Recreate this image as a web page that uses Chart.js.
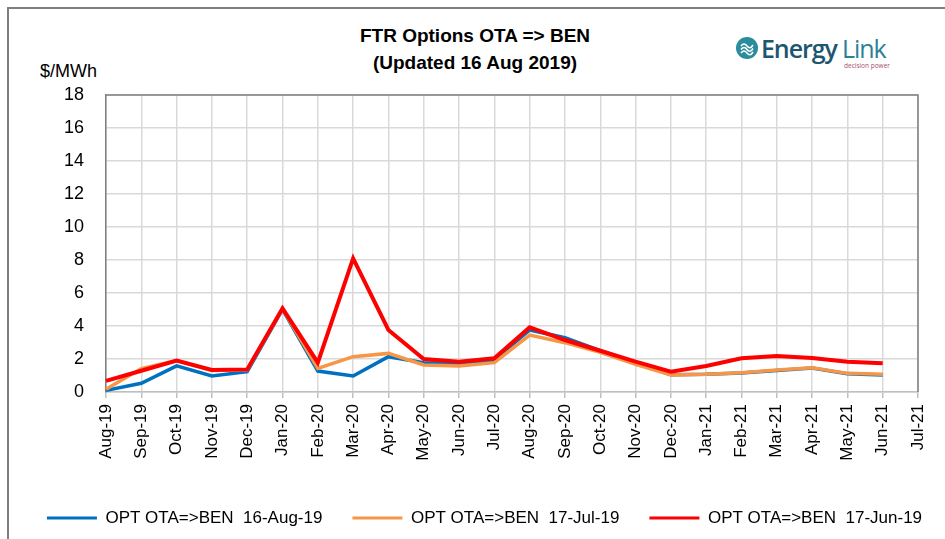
<!DOCTYPE html>
<html>
<head>
<meta charset="utf-8">
<script src="https://cdn.jsdelivr.net/npm/chart.js@4.4.1/dist/chart.umd.min.js"></script>
<style>
    html, body { margin: 0; padding: 0; background: #fff; width: 945px; height: 539px; overflow: hidden; }
    #frame { position: absolute; left: 7px; top: 7px; width: 1000px; height: 600px; border: 2px solid #7f7f7f; background: #fff; }
    #wrap { position: absolute; left: 0; top: 0; width: 969px; height: 539px; }
    .narrow { font-family: 'Liberation Sans', Arial, sans-serif; color: #000; }
    #title { position: absolute; left: 300px; top: 22px; width: 350px; text-align: center; font-size: 19px; font-weight: bold; line-height: 27px; }
    #unit { position: absolute; left: 40px; top: 61px; font-size: 18px; }
    #logo { position: absolute; left: 736px; top: 33px; width: 150px; height: 40px; }
    #logo svg { position: absolute; left: 0; top: 4px; }
    #logo .name { position: absolute; left: 25px; top: 0; font-family: 'Open Sans', sans-serif; font-size: 25px; line-height: 30px; white-space: nowrap; letter-spacing: -1.1px; }
    #logo .e { color: #1d5670; font-weight: 600; }
    #logo .l { color: #2c7f96; font-weight: 400; }
    #logo .tag { position: absolute; left: 108px; top: 28px; font-family: 'Open Sans', sans-serif; font-size: 6.5px; color: #a4506e; white-space: nowrap; }
</style>
</head>
<body>
<div id="frame"></div>
<div id="title" class="narrow">FTR Options OTA =&gt; BEN<br>(Updated 16 Aug 2019)</div>
<div id="unit" class="narrow">$/MWh</div>
<div id="logo">
    <svg width="22" height="22" viewBox="0 0 22 22">
        <circle cx="11" cy="11" r="11" fill="#2b8c9b"/>
        <path d="M5 9 q3 -4 6 0 t6 -1" stroke="#fff" stroke-width="1.6" fill="none"/>
        <path d="M5 12.5 q3 -4 6 0 t6 -1" stroke="#fff" stroke-width="1.6" fill="none"/>
        <path d="M5 16 q3 -4 6 0 t6 -1" stroke="#fff" stroke-width="1.6" fill="none"/>
    </svg>
    <div class="name"><span class="e">Energy</span> <span class="l">Link</span></div>
    <div class="tag">decision power</div>
</div>
<div id="wrap"><canvas id="ftrChart"></canvas></div>

<script>
// Dados
const meses = ["Aug-19", "Sep-19", "Oct-19", "Nov-19", "Dec-19", "Jan-20", "Feb-20", "Mar-20",
               "Apr-20", "May-20", "Jun-20", "Jul-20", "Aug-20", "Sep-20", "Oct-20", "Nov-20",
               "Dec-20", "Jan-21", "Feb-21", "Mar-21", "Apr-21", "May-21", "Jun-21", "Jul-21"];

const opt16Aug = [0.10, 0.53, 1.58, 0.97, 1.23, 5.00, 1.27, 0.97, 2.14, 1.78, 1.74, 1.94,
                  3.76, 3.29, 2.50, 1.80, 1.05, 1.07, 1.15, 1.30, 1.45, 1.10, 1.03, null];
const opt17Jul = [0.16, 1.42, 1.90, 1.30, 1.35, 5.05, 1.43, 2.14, 2.34, 1.64, 1.58, 1.78,
                  3.45, 2.99, 2.40, 1.68, 1.03, 1.07, 1.17, 1.33, 1.47, 1.13, 1.07, null];
const opt17Jun = [0.67, 1.29, 1.90, 1.33, 1.37, 5.07, 1.78, 8.10, 3.76, 2.00, 1.84, 2.04,
                  3.92, 3.15, 2.50, 1.84, 1.23, 1.58, 2.04, 2.18, 2.06, 1.84, 1.74, null];

const nomes = ["OPT OTA=>BEN  16-Aug-19", "OPT OTA=>BEN  17-Jul-19", "OPT OTA=>BEN  17-Jun-19"];
const cores = ["#0070c0", "#f79646", "#ff0000"];
const espessuras = [3.5, 3.5, 4];

const fonte = "'Liberation Sans', Arial, sans-serif";

// Moldura do gráfico (topo e direita)
const bordaPlot = {
    id: "bordaPlot",
    afterDatasetsDraw(chart) {
        const { ctx, chartArea: a } = chart;
        ctx.save();
        ctx.strokeStyle = "#7f7f7f";
        ctx.lineWidth = 1.5;
        ctx.beginPath();
        ctx.moveTo(a.left, a.top);
        ctx.lineTo(a.right, a.top);
        ctx.lineTo(a.right, a.bottom);
        ctx.stroke();
        ctx.restore();
    }
};

const series = [opt16Aug, opt17Jul, opt17Jun];

new Chart(document.getElementById("ftrChart"), {
    type: "line",
    data: {
        labels: meses,
        datasets: series.map((s, i) => ({
            label: nomes[i],
            data: s,
            borderColor: cores[i],
            backgroundColor: cores[i],
            borderWidth: espessuras[i],
            pointRadius: 0,
            tension: 0,
            fill: false,
            order: 3 - i
        }))
    },
    options: {
        responsive: true,
        maintainAspectRatio: false,
        animation: false,
        layout: { padding: { top: 95, right: 0, bottom: 2.5, left: 0 } },
        plugins: {
            legend: {
                position: "bottom",
                labels: {
                    boxWidth: 50,
                    boxHeight: 3,
                    padding: 30,
                    color: "#000",
                    font: { family: fonte, size: 17 },
                    generateLabels: (chart) => chart.data.datasets.map((d, i) => ({
                        text: d.label,
                        fillStyle: cores[i],
                        strokeStyle: cores[i],
                        lineWidth: 0,
                        datasetIndex: i
                    }))
                }
            },
            tooltip: { enabled: false }
        },
        scales: {
            x: {
                offset: false,
                afterFit: (scale) => { scale.height = 87.5; },
                ticks: {
                    color: "#000",
                    font: { family: fonte, size: 17 },
                    maxRotation: 90,
                    minRotation: 90,
                    autoSkip: false,
                    padding: 6
                },
                grid: { color: "#d9d9d9", lineWidth: 1.5, tickLength: 6, tickColor: "#bfbfbf" },
                border: { color: "#bfbfbf", width: 1.5 }
            },
            y: {
                min: 0,
                max: 18,
                afterFit: (scale) => { scale.width = 106; },
                ticks: {
                    stepSize: 2,
                    color: "#000",
                    font: { family: fonte, size: 18 },
                    padding: 22
                },
                grid: { color: "#d9d9d9", lineWidth: 1.5, drawTicks: false },
                border: { color: "#7f7f7f", width: 1.5 }
            },
            // eixo vazio à direita só para reservar espaço
            yDir: {
                position: "right",
                min: 0,
                max: 18,
                afterFit: (scale) => { scale.width = 51; },
                ticks: { display: false },
                grid: { drawOnChartArea: false, drawTicks: false },
                border: { display: false }
            }
        }
    },
    plugins: [bordaPlot]
});
</script>
</body>
</html>
